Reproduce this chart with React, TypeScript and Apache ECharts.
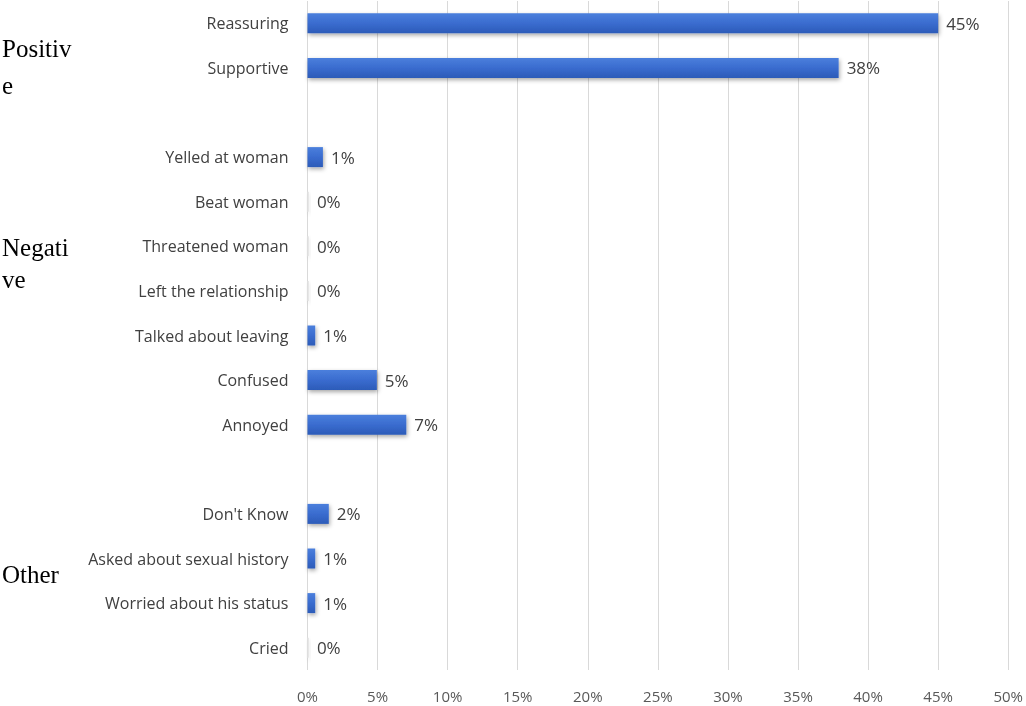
import React, { useEffect, useRef } from "react";
import * as echarts from "echarts";

const categories = [
  "Reassuring",
  "Supportive",
  " ",
  "Yelled at woman",
  "Beat woman",
  "Threatened woman",
  "Left the relationship",
  "Talked about leaving",
  "Confused",
  "Annoyed",
  "  ",
  "Don't Know",
  "Asked about sexual history",
  "Worried about his status",
  "Cried",
];

const values: (number | null)[] = [45, 37.9, null, 1.1, 0.1, 0.1, 0.1, 0.55, 4.95, 7.05, null, 1.52, 0.55, 0.55, 0.1];

const xTicks = [0, 5, 10, 15, 20, 25, 30, 35, 40, 45, 50];

const groupLabels = [
  { lines: ["Positiv", "e"], top: 30, lineHeight: 37 },
  { lines: ["Negati", "ve"], top: 231, lineHeight: 32 },
  { lines: ["Other"], top: 559, lineHeight: 30 },
];

export default function App() {
  const ref = useRef<HTMLDivElement>(null);
  useEffect(() => {
    if (!ref.current) return;
    const chart = echarts.init(ref.current, undefined, { renderer: "svg" });
    const blue = new echarts.graphic.LinearGradient(0, 0, 0, 1, [
      { offset: 0, color: "#4b7fdc" },
      { offset: 0.5, color: "#3a6ccf" },
      { offset: 1, color: "#2c5bb8" },
    ]);
    chart.setOption({
      animation: false,
      grid: { left: 307.5, right: 15.5, top: 1, bottom: 36, containLabel: false },
      xAxis: {
        type: "value",
        min: xTicks[0],
        max: xTicks[xTicks.length - 1],
        interval: 5,
        axisLine: { show: false },
        axisTick: { show: false },
        splitLine: { show: true, lineStyle: { color: "#d9d9d9", width: 1 } },
        axisLabel: {
          formatter: (v: number) => v + "%",
          color: "#595959",
          fontFamily: "Open Sans",
          fontSize: 15,
          margin: 18,
        },
      },
      yAxis: {
        type: "category",
        data: categories,
        inverse: true,
        axisLine: { show: false },
        axisTick: { show: false },
        splitLine: { show: false },
        axisLabel: {
          color: "#404040",
          fontFamily: "Open Sans",
          fontSize: 16,
          margin: 19,
        },
      },
      series: [
        {
          type: "bar",
          barWidth: 20,
          data: values.map((v) =>
            v === null
              ? "-"
              : {
                  value: v,
                  itemStyle: v < 0.3 ? { color: "#e6e6e6", shadowColor: "rgba(0,0,0,0.15)" } : { color: blue },
                }
          ),
          itemStyle: {
            shadowColor: "rgba(0,0,0,0.35)",
            shadowBlur: 4,
            shadowOffsetX: 1,
            shadowOffsetY: 2,
          },
          label: {
            show: true,
            position: "right",
            distance: 8,
            color: "#404040",
            fontFamily: "Open Sans",
            fontSize: 17,
            formatter: (p: any) => Math.round(p.value) + "%",
          },
        },
      ],
      graphic: groupLabels.map((g) => ({
        type: "text",
        left: 2,
        top: g.top,
        style: {
          text: g.lines.join("\n"),
          font: '25px "Liberation Serif"',
          lineHeight: g.lineHeight,
          fill: "#000",
        },
      })),
    });
    return () => chart.dispose();
  }, []);
  return <div ref={ref} style={{ position: "fixed", left: 0, top: 0, width: 1026, height: 706 }} />;
}
